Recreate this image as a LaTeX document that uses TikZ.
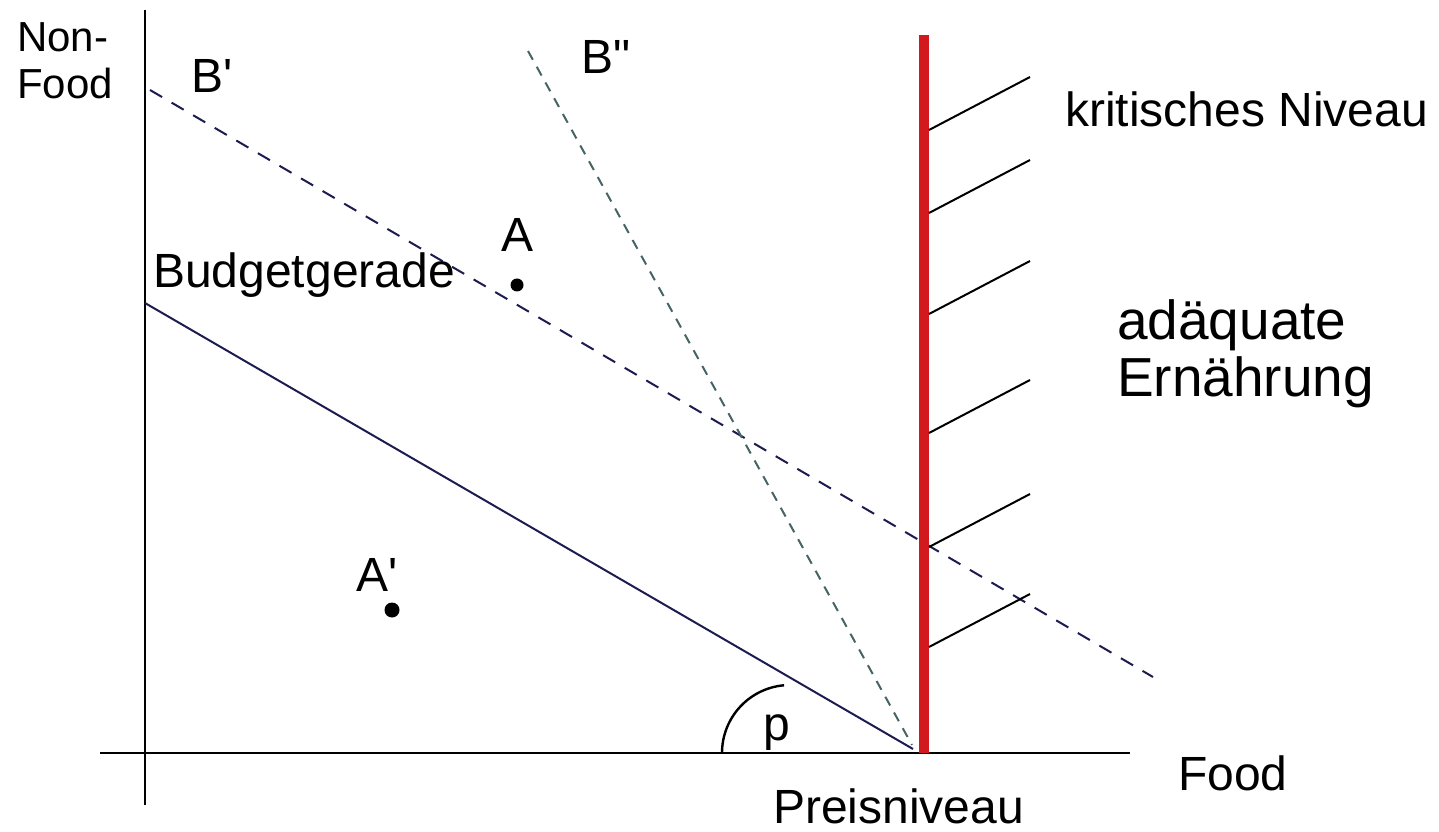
\documentclass[tikz,border=0pt]{standalone}
\usepackage{fontspec}
\setmainfont{Liberation Sans}
\usetikzlibrary{positioning}
\definecolor{navyline}{RGB}{28,28,80}
\definecolor{tealline}{RGB}{70,100,100}
\definecolor{critred}{RGB}{210,25,30}

\begin{document}
\begin{tikzpicture}[x=1pt,y=1pt]
\tikzset{
  axisline/.style={draw=black,line width=2.8pt},
  budgetline/.style={draw=navyline,line width=2pt},
  shiftline/.style={draw=navyline,line width=2pt,dash pattern=on 14pt off 11pt},
  steepline/.style={draw=tealline,line width=2pt,dash pattern=on 10pt off 8pt},
  hatchline/.style={draw=black,line width=2pt},
  critline/.style={draw=critred,line width=10pt},
  plainlabel/.style={inner sep=0pt,font=\fontsize{48}{57}\selectfont},
  biglabel/.style={inner sep=0pt,align=left,font=\fontsize{55}{57}\selectfont},
  dotmark/.style={circle,fill=black,inner sep=0pt}
}
\useasboundingbox (0,0) rectangle (1439,831);
% axes
\coordinate (y_top) at (145,821);
\coordinate (y_bot) at (145,26);
\coordinate (x_left) at (100,78);
\coordinate (x_right) at (1130,78);
\draw[axisline] (y_bot) -- (y_top);
\draw[axisline] (x_left) -- (x_right);
% budget lines
\coordinate (b_start) at (145,528);
\coordinate (b_end) at (913,82);
\coordinate (b1_start) at (150,741);
\coordinate (b1_end) at (1153,154);
\coordinate (b2_start) at (528,780);
\coordinate (b2_end) at (912,86);
\draw[budgetline] (b_start) -- (b_end);
\draw[shiftline] (b1_start) -- (b1_end);
\draw[steepline] (b2_start) -- (b2_end);
% critical level
\coordinate (c_top) at (924,796);
\coordinate (c_bot) at (924,78);
\draw[critline] (c_bot) -- (c_top);
\foreach \hy in {701,618,517,398,284,184}
  \draw[hatchline] (929,\hy) -- ++(101,53);
% angle
\draw[axisline,line width=2.4pt] (722,78) arc (180:95:68);
% points
\node[dotmark,minimum size=13pt] (p_A) at (517,546) {};
\node[dotmark,minimum size=15pt] (p_A1) at (392,221) {};
% labels
\node[inner sep=0pt,align=left,anchor=north west,font=\fontsize{42}{47}\selectfont] (l_nonfood) at (17,809) {Non-\\Food};
\node[plainlabel] (l_B1) at (212,755) {B\textquotesingle};
\node[plainlabel] (l_B2) at (606,774) {B\textquotedbl};
\node[plainlabel] (l_A) at (518,596) {A};
\node[plainlabel] (l_A1) at (377,256) {A\textquotesingle};
\node[plainlabel,anchor=base west] (l_budget) at (153,543) {Budgetgerade};
\node[plainlabel,anchor=base west] (l_krit) at (1065,704) {kritisches Niveau};
\node[biglabel,anchor=north west] (l_adeq) at (1117,532) {adäquate\\Ernährung};
\node[plainlabel,anchor=base west] (l_p) at (763,91) {p};
\node[plainlabel,anchor=base west] (l_preis) at (773,8) {Preisniveau};
\node[plainlabel,anchor=base west] (l_food) at (1178,41) {Food};
\end{tikzpicture}
\end{document}
